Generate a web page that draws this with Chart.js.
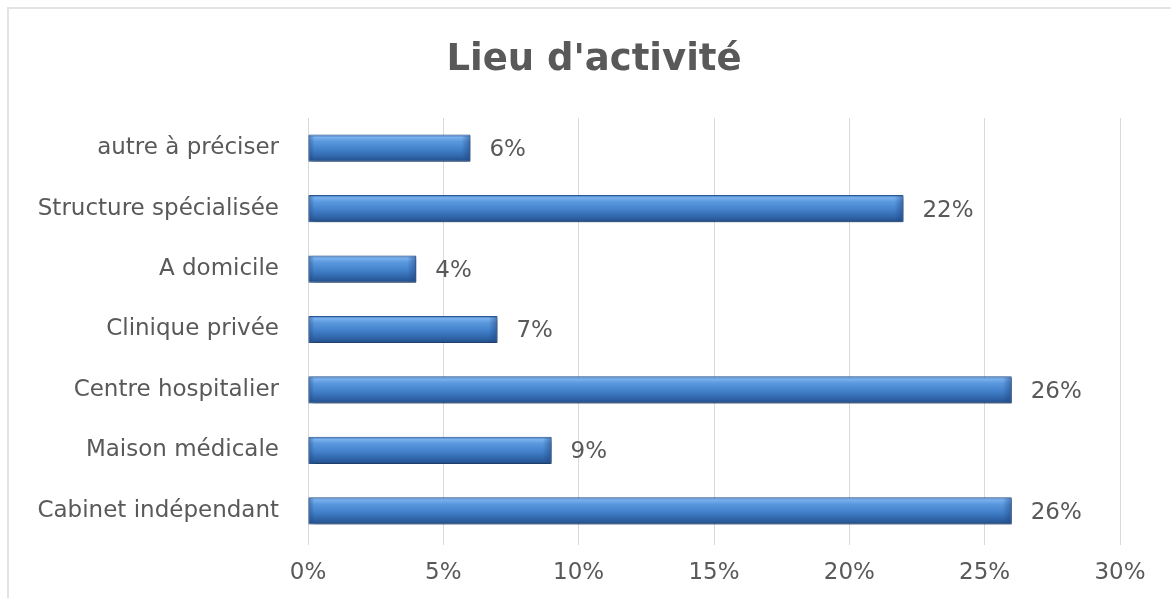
<!DOCTYPE html>
<html lang="fr">
<head>
<meta charset="utf-8">
<title>Lieu d'activité</title>
<script src="https://cdn.jsdelivr.net/npm/chart.js@4/dist/chart.umd.min.js"></script>
<style>
  html, body { margin: 0; padding: 0; background: #ffffff; overflow: hidden; }
  #wrap { position: relative; width: 1171px; height: 598px; }
  #frame { position: absolute; left: 7px; top: 7px; width: 1200px; height: 700px;
           border-left: 2px solid #e3e3e3; border-top: 2px solid #e3e3e3; box-sizing: border-box; }
  canvas { position: absolute; left: 0; top: 0; }
</style>
</head>
<body>
<div id="wrap">
  <div id="frame"></div>
  <canvas id="chart" width="1171" height="598"></canvas>
</div>
<script>
// Categories, top to bottom
const categories = [
  "autre à préciser",
  "Structure spécialisée",
  "A domicile",
  "Clinique privée",
  "Centre hospitalier",
  "Maison médicale",
  "Cabinet indépendant"
];
// Share of respondents per place of work (%)
const shares = [6, 22, 4, 7, 26, 9, 26];
// Axis ticks (%)
const tickValues = [0, 5, 10, 15, 20, 25, 30];

const TITLE = "Lieu d'activité";
const FONT = "'DejaVu Sans', sans-serif";
const TEXT = "#595959";
const BAR_PCT = 0.45;

// Vertical shading for each bar, built from the bar's place on the category scale
function barGradient(ctx) {
  const chart = ctx.chart;
  const ys = chart.scales && chart.scales.y;
  if (!chart.chartArea || !ys || ys.height == null) return "#4a86cf";
  const yc = ys.getPixelForValue(ctx.dataIndex);
  const h = ys.height / categories.length * BAR_PCT;
  const g = chart.ctx.createLinearGradient(0, yc - h / 2, 0, yc + h / 2);
  g.addColorStop(0.00, "#3b72b8");
  g.addColorStop(0.10, "#7ab1ee");
  g.addColorStop(0.25, "#5a98de");
  g.addColorStop(0.55, "#4280ca");
  g.addColorStop(0.85, "#2d60a3");
  g.addColorStop(1.00, "#214c85");
  return g;
}

// Title drawn above the plot
const titleText = {
  id: "titleText",
  afterDraw(chart) {
    const c = chart.ctx;
    c.save();
    c.font = "bold 37px " + FONT;
    c.fillStyle = TEXT;
    c.textAlign = "center";
    c.textBaseline = "alphabetic";
    c.fillText(TITLE, 594, 70);
    c.restore();
  }
};

// Soft shadow under the bars, bevelled ends and value labels
const barEffects = {
  id: "barEffects",
  beforeDatasetDraw(chart) {
    const c = chart.ctx;
    c.save();
    c.shadowColor = "rgba(0,0,0,0.4)";
    c.shadowBlur = 5;
    c.shadowOffsetX = 2;
    c.shadowOffsetY = 3;
  },
  afterDatasetDraw(chart, args) {
    const c = chart.ctx;
    c.restore();
    args.meta.data.forEach((bar, i) => {
      const top = bar.y - bar.height / 2;
      const left = Math.min(bar.base, bar.x);
      const right = Math.max(bar.base, bar.x);
      // right bevel
      const gr = c.createLinearGradient(right - 9, 0, right, 0);
      gr.addColorStop(0, "rgba(30,70,130,0)");
      gr.addColorStop(1, "rgba(30,70,130,0.55)");
      c.fillStyle = gr;
      c.fillRect(right - 9, top + 1, 9, bar.height - 2);
      // left bevel
      const gl = c.createLinearGradient(left, 0, left + 6, 0);
      gl.addColorStop(0, "rgba(30,70,130,0.5)");
      gl.addColorStop(1, "rgba(30,70,130,0)");
      c.fillStyle = gl;
      c.fillRect(left, top + 1, 6, bar.height - 2);
      // value label
      c.save();
      c.font = "23px " + FONT;
      c.fillStyle = TEXT;
      c.textAlign = "left";
      c.textBaseline = "middle";
      c.fillText(shares[i] + "%", right + 19, bar.y + 2);
      c.restore();
    });
  }
};

new Chart(document.getElementById("chart"), {
  type: "bar",
  data: {
    labels: categories,
    datasets: [{
      data: shares,
      backgroundColor: barGradient,
      borderColor: "#2b5a96",
      borderWidth: 1,
      borderSkipped: false,
      categoryPercentage: 1,
      barPercentage: BAR_PCT
    }]
  },
  options: {
    indexAxis: "y",
    responsive: false,
    animation: false,
    devicePixelRatio: 1,
    layout: { padding: { left: 16, right: 51, top: 118, bottom: 0 } },
    plugins: {
      legend: { display: false },
      tooltip: { enabled: false },
      title: { display: false }
    },
    scales: {
      x: {
        min: 0,
        max: 30,
        afterBuildTicks(scale) { scale.ticks = tickValues.map(v => ({ value: v })); },
        afterFit(scale) { scale.height = 57; },
        border: { display: false },
        grid: { color: "#d9d9d9", lineWidth: 1, drawTicks: true, tickLength: 4, tickColor: "#d9d9d9" },
        ticks: {
          color: TEXT,
          padding: 14,
          font: { family: FONT, size: 23 },
          callback: v => v + "%"
        }
      },
      y: {
        afterFit(scale) { scale.width = 292; },
        border: { display: false },
        grid: { display: false, drawTicks: false },
        ticks: {
          color: TEXT,
          padding: 29,
          font: { family: FONT, size: 23 }
        }
      }
    }
  },
  plugins: [barEffects, titleText]
});
</script>
</body>
</html>
